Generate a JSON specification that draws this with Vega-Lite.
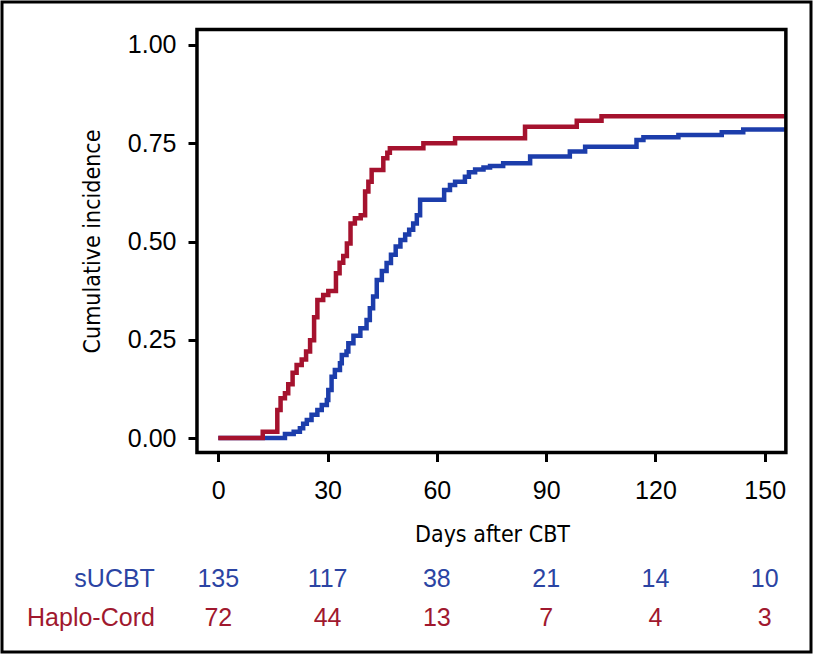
{
  "$schema": "https://vega.github.io/schema/vega-lite/v6.json",
  "width": 809,
  "height": 650,
  "autosize": {"type": "none"},
  "padding": {"left": 2, "top": 2, "right": 6, "bottom": 4},
  "background": "white",
  "config": {
    "view": {"stroke": "black", "strokeWidth": 3},
    "font": "Liberation Sans"
  },
  "datasets": {
    "curves": [
      {"g": "sUCBT", "day": 0, "ci": 0},
      {"g": "sUCBT", "day": 18.3, "ci": 0.010},
      {"g": "sUCBT", "day": 20.7, "ci": 0.016},
      {"g": "sUCBT", "day": 22.4, "ci": 0.025},
      {"g": "sUCBT", "day": 23.3, "ci": 0.036},
      {"g": "sUCBT", "day": 24.3, "ci": 0.046},
      {"g": "sUCBT", "day": 25.6, "ci": 0.059},
      {"g": "sUCBT", "day": 27.2, "ci": 0.071},
      {"g": "sUCBT", "day": 28.4, "ci": 0.084},
      {"g": "sUCBT", "day": 29.8, "ci": 0.097},
      {"g": "sUCBT", "day": 30.2, "ci": 0.122},
      {"g": "sUCBT", "day": 31.1, "ci": 0.156},
      {"g": "sUCBT", "day": 32.0, "ci": 0.173},
      {"g": "sUCBT", "day": 33.4, "ci": 0.190},
      {"g": "sUCBT", "day": 33.9, "ci": 0.211},
      {"g": "sUCBT", "day": 35.2, "ci": 0.220},
      {"g": "sUCBT", "day": 35.7, "ci": 0.241},
      {"g": "sUCBT", "day": 37.1, "ci": 0.260},
      {"g": "sUCBT", "day": 39.0, "ci": 0.279},
      {"g": "sUCBT", "day": 40.7, "ci": 0.300},
      {"g": "sUCBT", "day": 41.6, "ci": 0.330},
      {"g": "sUCBT", "day": 42.5, "ci": 0.360},
      {"g": "sUCBT", "day": 43.5, "ci": 0.402},
      {"g": "sUCBT", "day": 44.9, "ci": 0.425},
      {"g": "sUCBT", "day": 46.2, "ci": 0.445},
      {"g": "sUCBT", "day": 47.4, "ci": 0.466},
      {"g": "sUCBT", "day": 48.7, "ci": 0.487},
      {"g": "sUCBT", "day": 50.0, "ci": 0.504},
      {"g": "sUCBT", "day": 51.3, "ci": 0.518},
      {"g": "sUCBT", "day": 52.4, "ci": 0.530},
      {"g": "sUCBT", "day": 53.5, "ci": 0.546},
      {"g": "sUCBT", "day": 54.5, "ci": 0.567},
      {"g": "sUCBT", "day": 55.4, "ci": 0.606},
      {"g": "sUCBT", "day": 62.0, "ci": 0.631},
      {"g": "sUCBT", "day": 63.6, "ci": 0.644},
      {"g": "sUCBT", "day": 65.0, "ci": 0.652},
      {"g": "sUCBT", "day": 67.7, "ci": 0.665},
      {"g": "sUCBT", "day": 68.8, "ci": 0.676},
      {"g": "sUCBT", "day": 70.5, "ci": 0.683},
      {"g": "sUCBT", "day": 72.8, "ci": 0.688},
      {"g": "sUCBT", "day": 74.6, "ci": 0.692},
      {"g": "sUCBT", "day": 78.2, "ci": 0.699},
      {"g": "sUCBT", "day": 85.6, "ci": 0.716},
      {"g": "sUCBT", "day": 96.5, "ci": 0.729},
      {"g": "sUCBT", "day": 100.7, "ci": 0.741},
      {"g": "sUCBT", "day": 114.8, "ci": 0.758},
      {"g": "sUCBT", "day": 116.7, "ci": 0.765},
      {"g": "sUCBT", "day": 126.3, "ci": 0.771},
      {"g": "sUCBT", "day": 138.2, "ci": 0.778},
      {"g": "sUCBT", "day": 144.1, "ci": 0.785},
      {"g": "sUCBT", "day": 155.5, "ci": 0.785},
      {"g": "Haplo-Cord", "day": 0, "ci": 0},
      {"g": "Haplo-Cord", "day": 12.2, "ci": 0.016},
      {"g": "Haplo-Cord", "day": 16.2, "ci": 0.071},
      {"g": "Haplo-Cord", "day": 17.1, "ci": 0.101},
      {"g": "Haplo-Cord", "day": 18.3, "ci": 0.114},
      {"g": "Haplo-Cord", "day": 19.2, "ci": 0.137},
      {"g": "Haplo-Cord", "day": 20.4, "ci": 0.166},
      {"g": "Haplo-Cord", "day": 21.5, "ci": 0.186},
      {"g": "Haplo-Cord", "day": 22.9, "ci": 0.200},
      {"g": "Haplo-Cord", "day": 24.1, "ci": 0.220},
      {"g": "Haplo-Cord", "day": 25.2, "ci": 0.249},
      {"g": "Haplo-Cord", "day": 26.3, "ci": 0.307},
      {"g": "Haplo-Cord", "day": 27.2, "ci": 0.351},
      {"g": "Haplo-Cord", "day": 28.8, "ci": 0.364},
      {"g": "Haplo-Cord", "day": 30.2, "ci": 0.374},
      {"g": "Haplo-Cord", "day": 32.3, "ci": 0.419},
      {"g": "Haplo-Cord", "day": 33.3, "ci": 0.446},
      {"g": "Haplo-Cord", "day": 34.3, "ci": 0.463},
      {"g": "Haplo-Cord", "day": 35.3, "ci": 0.495},
      {"g": "Haplo-Cord", "day": 36.3, "ci": 0.546},
      {"g": "Haplo-Cord", "day": 37.5, "ci": 0.559},
      {"g": "Haplo-Cord", "day": 39.1, "ci": 0.567},
      {"g": "Haplo-Cord", "day": 40.3, "ci": 0.627},
      {"g": "Haplo-Cord", "day": 41.2, "ci": 0.652},
      {"g": "Haplo-Cord", "day": 42.1, "ci": 0.682},
      {"g": "Haplo-Cord", "day": 45.3, "ci": 0.712},
      {"g": "Haplo-Cord", "day": 46.4, "ci": 0.726},
      {"g": "Haplo-Cord", "day": 47.1, "ci": 0.737},
      {"g": "Haplo-Cord", "day": 56.3, "ci": 0.750},
      {"g": "Haplo-Cord", "day": 65.0, "ci": 0.763},
      {"g": "Haplo-Cord", "day": 84.2, "ci": 0.792},
      {"g": "Haplo-Cord", "day": 98.4, "ci": 0.807},
      {"g": "Haplo-Cord", "day": 105.2, "ci": 0.819},
      {"g": "Haplo-Cord", "day": 155.5, "ci": 0.819}
    ],
    "risk": [
      {"g": "sUCBT", "day": 0, "n": 135},
      {"g": "sUCBT", "day": 30, "n": 117},
      {"g": "sUCBT", "day": 60, "n": 38},
      {"g": "sUCBT", "day": 90, "n": 21},
      {"g": "sUCBT", "day": 120, "n": 14},
      {"g": "sUCBT", "day": 150, "n": 10},
      {"g": "Haplo-Cord", "day": 0, "n": 72},
      {"g": "Haplo-Cord", "day": 30, "n": 44},
      {"g": "Haplo-Cord", "day": 60, "n": 13},
      {"g": "Haplo-Cord", "day": 90, "n": 7},
      {"g": "Haplo-Cord", "day": 120, "n": 4},
      {"g": "Haplo-Cord", "day": 150, "n": 3}
    ],
    "groups": [
      {"g": "sUCBT"},
      {"g": "Haplo-Cord"}
    ]
  },
  "layer": [
    {
      "data": {"name": "curves"},
      "transform": [{"filter": "datum.g === 'sUCBT'"}],
      "mark": {"type": "line", "interpolate": "step-after", "color": "#1C3DAB", "strokeWidth": 4.5},
      "encoding": {
        "x": {
          "field": "day", "type": "quantitative",
          "scale": {"domain": [-59.37, 162.70], "nice": false, "zero": false},
          "axis": {
            "orient": "bottom", "offset": -199.5, "values": [0, 30, 60, 90, 120, 150],
            "domain": false, "grid": false, "tickSize": 9, "tickWidth": 3, "tickColor": "black",
            "labelFont": "Liberation Sans", "labelFontSize": 25, "labelColor": "black", "labelPadding": 17,
            "title": "Days after CBT", "titleFont": "DejaVu Sans Condensed, Liberation Sans", "titleFontSize": 23,
            "titleFontWeight": "normal", "titleColor": "black", "titleX": 490, "titleY": 89,
            "titleBaseline": "alphabetic", "titleAlign": "center"
          }
        },
        "y": {
          "field": "ci", "type": "quantitative",
          "scale": {"domain": [-0.5445, 1.1094], "nice": false, "zero": false},
          "axis": {
            "orient": "left", "offset": -195, "values": [0, 0.25, 0.5, 0.75, 1], "format": ".2f",
            "domain": false, "grid": false, "tickSize": 9, "tickWidth": 3, "tickColor": "black",
            "labelFont": "Liberation Sans", "labelFontSize": 25, "labelColor": "black", "labelPadding": 12,
            "title": "Cumulative incidence", "titleFont": "DejaVu Sans Condensed, Liberation Sans", "titleFontSize": 23,
            "titleFontWeight": "normal", "titleColor": "black", "titleX": -98, "titleY": 239,
            "titleAngle": 270, "titleBaseline": "alphabetic", "titleAlign": "center"
          }
        }
      }
    },
    {
      "data": {"name": "curves"},
      "transform": [{"filter": "datum.g === 'Haplo-Cord'"}],
      "mark": {"type": "line", "interpolate": "step-after", "color": "#A5122E", "strokeWidth": 4.5},
      "encoding": {
        "x": {"field": "day", "type": "quantitative"},
        "y": {"field": "ci", "type": "quantitative"}
      }
    },
    {
      "data": {"values": [{}]},
      "mark": {"type": "rect", "fillOpacity": 0, "stroke": "black", "strokeWidth": 3.5},
      "encoding": {
        "x": {"datum": -5.85, "type": "quantitative"},
        "x2": {"datum": 155.8},
        "y": {"datum": 1.0394, "type": "quantitative"},
        "y2": {"datum": -0.0369}
      }
    },
    {
      "data": {"name": "risk"},
      "transform": [{"filter": "datum.g === 'sUCBT'"}],
      "mark": {"type": "text", "align": "center", "baseline": "alphabetic", "font": "Liberation Sans", "fontSize": 25, "color": "#2B44A3"},
      "encoding": {
        "x": {"field": "day", "type": "quantitative"},
        "y": {"datum": -0.378, "type": "quantitative"},
        "text": {"field": "n", "type": "quantitative"}
      }
    },
    {
      "data": {"name": "risk"},
      "transform": [{"filter": "datum.g === 'Haplo-Cord'"}],
      "mark": {"type": "text", "align": "center", "baseline": "alphabetic", "font": "Liberation Sans", "fontSize": 25, "color": "#A0182E"},
      "encoding": {
        "x": {"field": "day", "type": "quantitative"},
        "y": {"datum": -0.4796, "type": "quantitative"},
        "text": {"field": "n", "type": "quantitative"}
      }
    },
    {
      "data": {"name": "groups"},
      "transform": [{"filter": "datum.g === 'sUCBT'"}],
      "mark": {"type": "text", "align": "right", "baseline": "alphabetic", "font": "Liberation Sans", "fontSize": 25, "color": "#2B44A3"},
      "encoding": {
        "x": {"datum": -17.4, "type": "quantitative"},
        "y": {"datum": -0.378, "type": "quantitative"},
        "text": {"field": "g", "type": "nominal"}
      }
    },
    {
      "data": {"name": "groups"},
      "transform": [{"filter": "datum.g === 'Haplo-Cord'"}],
      "mark": {"type": "text", "align": "right", "baseline": "alphabetic", "font": "Liberation Sans", "fontSize": 25, "color": "#A0182E"},
      "encoding": {
        "x": {"datum": -17.4, "type": "quantitative"},
        "y": {"datum": -0.4796, "type": "quantitative"},
        "text": {"field": "g", "type": "nominal"}
      }
    }
  ]
}
